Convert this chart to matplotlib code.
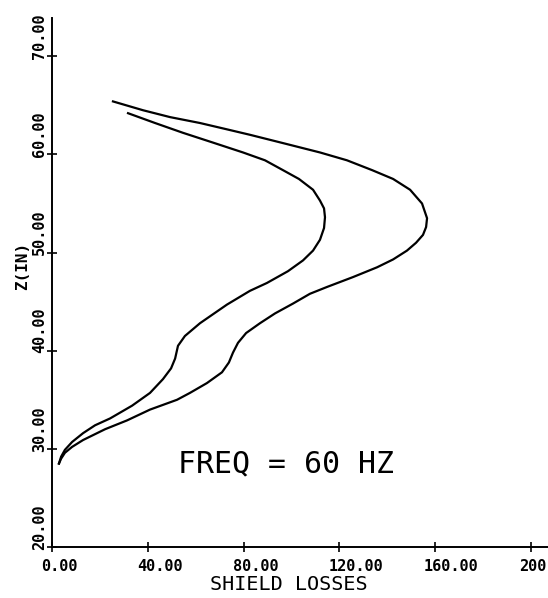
import matplotlib
matplotlib.use('Agg')
import matplotlib.pyplot as plt

# shield losses vs height
inner_loss = [31.6, 42.9, 54.6, 67.2, 79.7, 88.9, 96.4, 103.1, 109.0, 111.9, 113.6, 114.0,
              113.6, 111.9, 109.0, 104.8, 98.5, 89.7, 82.6, 73.0, 61.7, 55.4, 52.5, 51.3,
              49.6, 46.2, 40.8, 33.3, 24.1, 17.8, 12.8, 8.2, 5.2, 3.6, 2.7]
inner_z = [64.2, 63.2, 62.2, 61.2, 60.2, 59.4, 58.4, 57.5, 56.4, 55.3, 54.5, 53.6,
           52.5, 51.3, 50.2, 49.2, 48.1, 46.9, 46.1, 44.7, 42.8, 41.5, 40.5, 39.2,
           38.2, 37.1, 35.7, 34.4, 33.1, 32.4, 31.6, 30.7, 29.9, 29.2, 28.5]

outer_loss = [25.3, 37.9, 49.2, 61.7, 72.2, 82.6, 97.3, 111.9, 123.2, 133.7, 142.5, 149.6,
              154.6, 156.7, 156.3, 155.0, 152.1, 148.3, 142.5, 135.8, 125.7, 114.9, 107.7,
              100.6, 93.1, 86.8, 81.0, 77.6, 75.5, 73.8, 70.9, 64.6, 57.5, 52.1, 40.8,
              31.2, 22.0, 12.8, 8.2, 5.2, 3.6, 2.7]
outer_z = [65.4, 64.5, 63.8, 63.2, 62.6, 62.0, 61.1, 60.2, 59.4, 58.4, 57.5, 56.4,
           55.0, 53.5, 52.6, 51.8, 51.0, 50.2, 49.3, 48.5, 47.5, 46.5, 45.8,
           44.8, 43.8, 42.8, 41.8, 40.8, 39.8, 38.8, 37.8, 36.7, 35.7, 35.0, 34.0,
           32.9, 32.0, 30.9, 30.2, 29.6, 29.0, 28.5]

x_ticks = [0, 40, 80, 120, 160, 200]
x_labels = ['0.00', '40.00', '80.00', '120.00', '160.00', '200']
y_ticks = [20, 30, 40, 50, 60, 70]
y_labels = ['20.00', '30.00', '40.00', '50.00', '60.00', '70.00']

fig = plt.figure(figsize=(5.48, 5.98), dpi=100)
ax = fig.add_axes([0.0958, 0.0853, 0.9042, 0.8846])
ax.set_xlim(0, 207.3)
ax.set_ylim(20, 73.9)

ax.plot(inner_loss, inner_z, color='black', lw=1.6, solid_joinstyle='round')
ax.plot(outer_loss, outer_z, color='black', lw=1.6, solid_joinstyle='round')

for s in ['top', 'right']:
    ax.spines[s].set_visible(False)
ax.spines['left'].set_linewidth(1.4)
ax.spines['bottom'].set_linewidth(1.4)

ax.set_xticks(x_ticks)
ax.set_yticks(y_ticks)
ax.tick_params(direction='inout', length=7, width=1.2, labelbottom=False, labelleft=False)

# tick labels drawn by hand: left-aligned under x ticks, vertical beside y ticks
tick_font = dict(family='DejaVu Sans Mono', fontweight='bold', fontsize=11)
for v, lab in zip(x_ticks, x_labels):
    ax.annotate(lab, (v, 0), xycoords=ax.get_xaxis_transform(), xytext=(-8, -9),
                textcoords='offset points', ha='left', va='top', annotation_clip=False, **tick_font)
for v, lab in zip(y_ticks, y_labels):
    ax.annotate(lab, (0, v), xycoords=ax.get_yaxis_transform(), xytext=(-4, -2),
                textcoords='offset points', ha='right', va='bottom', rotation=90,
                annotation_clip=False, **tick_font)

fig.text(0.042, 0.555, 'Z(IN)', rotation=90, ha='center', va='center',
         family='DejaVu Sans Mono', fontweight='bold', fontsize=11.5)
fig.text(0.527, 0.022, 'SHIELD LOSSES', ha='center', va='center',
         family='DejaVu Sans Mono', fontsize=14.5)
ax.text(52.5, 28.5, 'FREQ = 60 HZ', ha='left', va='center',
        family='DejaVu Sans Mono', fontsize=21.5)

fig.savefig('out.png', dpi=100)
